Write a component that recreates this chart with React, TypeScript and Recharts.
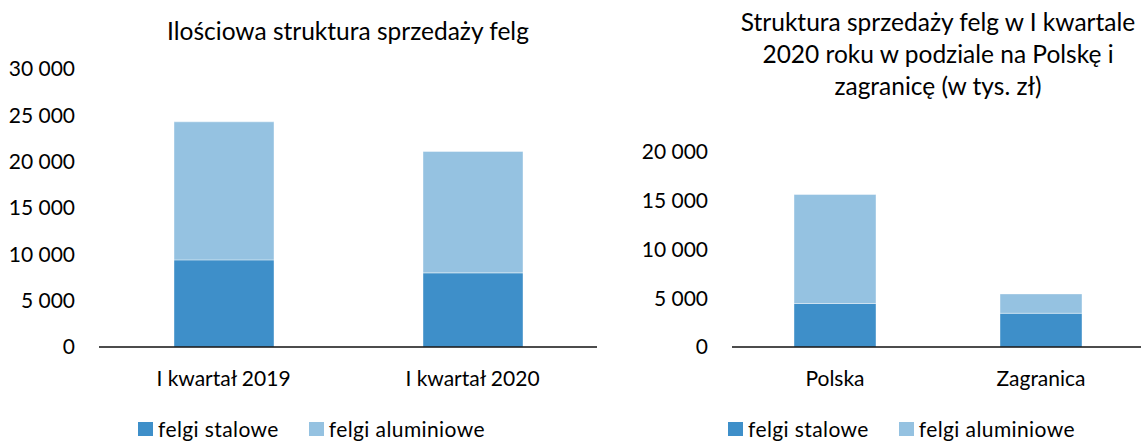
import React from 'react';
import { BarChart, Bar, XAxis, YAxis, Legend } from 'recharts';

const FONT = 'Lato, "Open Sans", sans-serif';
const STEEL = '#3e8fc9';
const ALU = '#95c2e1';

// left chart: quantity structure
const quarters = ['I kwartał 2019', 'I kwartał 2020'];
const steelByQuarter = [9400, 8000];
const aluByQuarter = [14900, 13100];
const quarterTicks = [0, 5000, 10000, 15000, 20000, 25000, 30000];

// right chart: Q1 2020, Poland vs abroad (thousand PLN)
const markets = ['Polska', 'Zagranica'];
const steelByMarket = [4450, 3450];
const aluByMarket = [11150, 1980];
const marketTicks = [0, 5000, 10000, 15000, 20000];

const seriesOrder = ['steel', 'alu'];

const quarterData = quarters.map((name, i) => ({
  name,
  steel: steelByQuarter[i],
  alu: aluByQuarter[i],
}));

const marketData = markets.map((name, i) => ({
  name,
  steel: steelByMarket[i],
  alu: aluByMarket[i],
}));

const fmt = (v: number) => String(v).replace(/\B(?=(\d{3})+(?!\d))/g, ' ');

const tickStyle = { fill: '#000', fontSize: 21, fontFamily: FONT };

const renderLegend = (props: any) => {
  const items = [...(props.payload || [])].sort(
    (a: any, b: any) => seriesOrder.indexOf(a.dataKey) - seriesOrder.indexOf(b.dataKey)
  );
  return (
    <div
      style={{
        display: 'flex',
        alignItems: 'center',
        fontFamily: FONT,
        fontSize: 21,
        letterSpacing: 0.4,
        lineHeight: '25px',
        color: '#000',
        whiteSpace: 'nowrap',
      }}
    >
      {items.map((entry: any, i: number) => (
        <div key={i} style={{ display: 'flex', alignItems: 'center', marginRight: 30 }}>
          <span
            style={{
              display: 'inline-block',
              width: 15,
              height: 14,
              background: entry.color,
              marginRight: 5,
            }}
          />
          <span>{entry.value}</span>
        </div>
      ))}
    </div>
  );
};

const StackChart = ({
  data,
  ticks,
  width,
  yWidth,
  top,
  barSize,
  legendLeft,
}: {
  data: any[];
  ticks: number[];
  width: number;
  yWidth: number;
  top: number;
  barSize: number;
  legendLeft: number;
}) => (
  <BarChart
    width={width}
    height={442}
    data={data}
    margin={{ top, right: 3, left: 0, bottom: 65 }}
  >
    <XAxis
      dataKey="name"
      height={30}
      tickLine={false}
      tickSize={0}
      tickMargin={24}
      axisLine={{ stroke: '#111', strokeWidth: 1.5 }}
      tick={tickStyle}
    />
    <YAxis
      width={yWidth}
      domain={[0, ticks[ticks.length - 1]]}
      ticks={ticks}
      tickFormatter={fmt}
      axisLine={false}
      tickLine={false}
      tickSize={0}
      tickMargin={24}
      tick={tickStyle}
    />
    <Legend
      verticalAlign="middle"
      align="center"
      content={renderLegend}
      wrapperStyle={{ left: legendLeft, top: 416, width: 420 }}
    />
    <Bar
      dataKey="steel"
      name="felgi stalowe"
      stackId="a"
      fill={STEEL}
      barSize={barSize}
      stroke="#ffffff"
      strokeOpacity={0.4}
      isAnimationActive={false}
    />
    <Bar
      dataKey="alu"
      name="felgi aluminiowe"
      stackId="a"
      fill={ALU}
      barSize={barSize}
      stroke="#ffffff"
      strokeOpacity={0.4}
      isAnimationActive={false}
    />
  </BarChart>
);

const titleStyle: React.CSSProperties = {
  position: 'absolute',
  textAlign: 'center',
  fontFamily: FONT,
  fontSize: 24.5,
  color: '#000',
  whiteSpace: 'nowrap',
};

export default function App() {
  return (
    <div
      style={{
        position: 'absolute',
        left: 0,
        top: 0,
        width: 1141,
        height: 442,
        overflow: 'hidden',
        background: '#fff',
      }}
    >
      <div style={{ position: 'absolute', left: 0, top: 0 }}>
        <StackChart
          data={quarterData}
          ticks={quarterTicks}
          width={600}
          yWidth={99}
          top={69}
          barSize={100}
          legendLeft={138}
        />
      </div>
      <div style={{ ...titleStyle, left: 123, top: 16, width: 450, lineHeight: '30px' }}>
        Ilościowa struktura sprzedaży felg
      </div>

      <div style={{ position: 'absolute', left: 600, top: 0 }}>
        <StackChart
          data={marketData}
          ticks={marketTicks}
          width={547}
          yWidth={132}
          top={151.5}
          barSize={82}
          legendLeft={128}
        />
      </div>
      <div style={{ ...titleStyle, left: 698, top: 6, width: 480, lineHeight: '32px' }}>
        Struktura sprzedaży felg w I kwartale
        <br />
        2020 roku w podziale na Polskę i
        <br />
        zagranicę (w tys. zł)
      </div>
    </div>
  );
}
